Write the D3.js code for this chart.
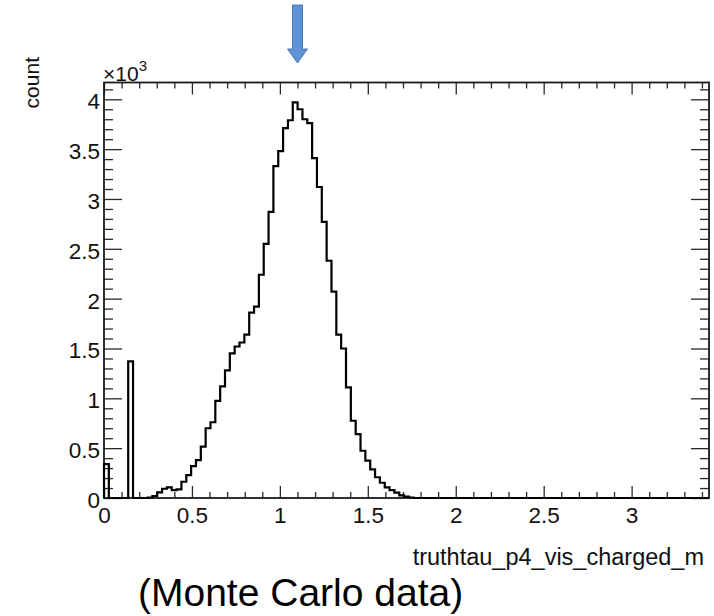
<!DOCTYPE html>
<html>
<head>
<meta charset="utf-8">
<script src="https://cdn.jsdelivr.net/npm/d3@7"></script>
<style>
  body { margin: 0; background: #fff; }
  svg { display: block; font-family: "Liberation Sans", Arial, Helvetica, sans-serif; }
</style>
</head>
<body>
<svg id="chart"></svg>
<script>
// histogram: 125 bins over [0, 3.44], counts per bin
const xRange = [0, 3.44];
const binCount = 125;
const counts = [
  340, 0, 0, 0, 0, 1370, 0, 0, 0, 5,
  20, 57, 93, 107, 80, 87, 163, 230, 320, 380,
  515, 700, 760, 975, 1120, 1280, 1450, 1520, 1560, 1640,
  1860, 1920, 2240, 2550, 2870, 3330, 3480, 3710, 3790, 3970,
  3900, 3800, 3760, 3410, 3120, 2770, 2380, 2070, 1640, 1500,
  1110, 775, 640, 474, 374, 288, 208, 153, 107, 80,
  53, 27, 13, 5, 0, 0, 0, 0, 0, 0,
  0, 0, 0, 0, 0, 0, 0, 0, 0, 0,
  0, 0, 0, 0, 0, 0, 0, 0, 0, 0,
  0, 0, 0, 0, 0, 0, 0, 0, 0, 0,
  0, 0, 0, 0, 0, 0, 0, 0, 0, 0,
  0, 0, 0, 0, 0, 0, 0, 0, 0, 0,
  0, 0, 0, 0, 0
];

const xMajorTicks = [0, 0.5, 1, 1.5, 2, 2.5, 3];
const xTickLabels = ['0', '0.5', '1', '1.5', '2', '2.5', '3'];
const yMajorTicks = [0, 500, 1000, 1500, 2000, 2500, 3000, 3500, 4000];
const yTickLabels = ['0', '0.5', '1', '1.5', '2', '2.5', '3', '3.5', '4'];
const xTitle = 'truthtau_p4_vis_charged_m';
const yTitle = 'count';
const caption = '(Monte Carlo data)';
const arrowX = 1.1;

const svgSize = { width: 714, height: 616 };
const frame = { left: 104, right: 709, top: 82.5, bottom: 498 };
const font = '"Liberation Sans", Arial, Helvetica, sans-serif';

const svg = d3.select('#chart')
  .attr('width', svgSize.width)
  .attr('height', svgSize.height);

svg.append('rect')
  .attr('width', svgSize.width)
  .attr('height', svgSize.height)
  .attr('fill', '#fff');

const xScale = d3.scaleLinear()
  .domain(xRange)
  .range([frame.left, frame.right]);

// ROOT leaves 5% headroom above the tallest bin
const yScale = d3.scaleLinear()
  .domain([0, d3.max(counts) * 1.05])
  .range([frame.bottom, frame.top]);

const xMinorTicks = d3.range(1, 35).map(i => i / 10).filter(v => Math.abs(v * 2 - Math.round(v * 2)) > 1e-6);
const yMinorTicks = d3.range(1, 42).map(i => i * 100).filter(v => v % 500 !== 0);

function styleAxis(g) {
  g.select('.domain').remove();
  g.selectAll('.tick line').attr('stroke', '#2a2a2a').attr('stroke-width', 1.3);
  g.attr('font-family', font).attr('font-size', 22.5);
  g.selectAll('text').attr('fill', '#111');
}

// bottom axis
svg.append('g')
  .attr('transform', `translate(0, ${frame.bottom})`)
  .call(d3.axisBottom(xScale).tickValues(xMinorTicks).tickFormat('').tickSize(-6))
  .call(styleAxis);
svg.append('g')
  .attr('transform', `translate(0, ${frame.bottom})`)
  .call(d3.axisBottom(xScale).tickValues(xMajorTicks).tickFormat((d, i) => xTickLabels[i]).tickSize(-12).tickPadding(9))
  .call(styleAxis);

// top axis
svg.append('g')
  .attr('transform', `translate(0, ${frame.top})`)
  .call(d3.axisTop(xScale).tickValues(xMinorTicks).tickFormat('').tickSize(-6))
  .call(styleAxis);
svg.append('g')
  .attr('transform', `translate(0, ${frame.top})`)
  .call(d3.axisTop(xScale).tickValues(xMajorTicks).tickFormat('').tickSize(-12))
  .call(styleAxis);

// left axis
svg.append('g')
  .attr('transform', `translate(${frame.left}, 0)`)
  .call(d3.axisLeft(yScale).tickValues(yMinorTicks).tickFormat('').tickSize(-9))
  .call(styleAxis);
svg.append('g')
  .attr('transform', `translate(${frame.left}, 0)`)
  .call(d3.axisLeft(yScale).tickValues(yMajorTicks).tickFormat((d, i) => yTickLabels[i]).tickSize(-18).tickPadding(4))
  .call(styleAxis)
  .call(g => g.selectAll('text').attr('dy', '0.42em'));

// right axis
svg.append('g')
  .attr('transform', `translate(${frame.right}, 0)`)
  .call(d3.axisRight(yScale).tickValues(yMinorTicks).tickFormat('').tickSize(-9))
  .call(styleAxis);
svg.append('g')
  .attr('transform', `translate(${frame.right}, 0)`)
  .call(d3.axisRight(yScale).tickValues(yMajorTicks).tickFormat('').tickSize(-18))
  .call(styleAxis);

// frame
svg.append('rect')
  .attr('x', frame.left)
  .attr('y', frame.top)
  .attr('width', frame.right - frame.left)
  .attr('height', frame.bottom - frame.top)
  .attr('fill', 'none')
  .attr('stroke', '#1a1a1a')
  .attr('stroke-width', 1.8);

// histogram outline
const binWidth = (xRange[1] - xRange[0]) / binCount;
const steps = [[xRange[0], 0]];
counts.forEach((c, i) => {
  const x0 = xRange[0] + i * binWidth;
  steps.push([x0, c], [x0 + binWidth, c]);
});
steps.push([xRange[1], 0]);

const line = d3.line()
  .x(d => xScale(d[0]))
  .y(d => yScale(d[1]));

svg.append('path')
  .datum(steps)
  .attr('d', line)
  .attr('fill', 'none')
  .attr('stroke', '#000')
  .attr('stroke-width', 2.2)
  .attr('stroke-linejoin', 'miter');

// exponent label
const expo = svg.append('text')
  .attr('x', frame.left - 1)
  .attr('y', 81)
  .attr('font-family', font)
  .attr('font-size', 21)
  .attr('fill', '#111');
expo.append('tspan').text('\u00d710');
expo.append('tspan').attr('dy', -10).attr('font-size', 15).text('3');

// axis titles
svg.append('text')
  .attr('x', 704)
  .attr('y', 565)
  .attr('text-anchor', 'end')
  .attr('font-family', font)
  .attr('font-size', 23.5)
  .attr('fill', '#111')
  .text(xTitle);

svg.append('text')
  .attr('transform', 'translate(39, 57) rotate(-90)')
  .attr('text-anchor', 'end')
  .attr('font-family', font)
  .attr('font-size', 21)
  .attr('fill', '#111')
  .text(yTitle);

svg.append('text')
  .attr('x', 138)
  .attr('y', 606)
  .attr('font-family', font)
  .attr('font-size', 39)
  .attr('fill', '#000')
  .text(caption);

// blue down arrow pointing at the peak
const ax = xScale(arrowX);
const arrow = d3.path();
arrow.moveTo(ax - 5, 5);
arrow.lineTo(ax + 5, 5);
arrow.lineTo(ax + 5, 49);
arrow.lineTo(ax + 10, 49);
arrow.lineTo(ax, 63);
arrow.lineTo(ax - 10, 49);
arrow.lineTo(ax - 5, 49);
arrow.closePath();
svg.append('path')
  .attr('d', arrow.toString())
  .attr('fill', '#5f93d6')
  .attr('stroke', '#4a78b4')
  .attr('stroke-width', 1);
</script>
</body>
</html>
